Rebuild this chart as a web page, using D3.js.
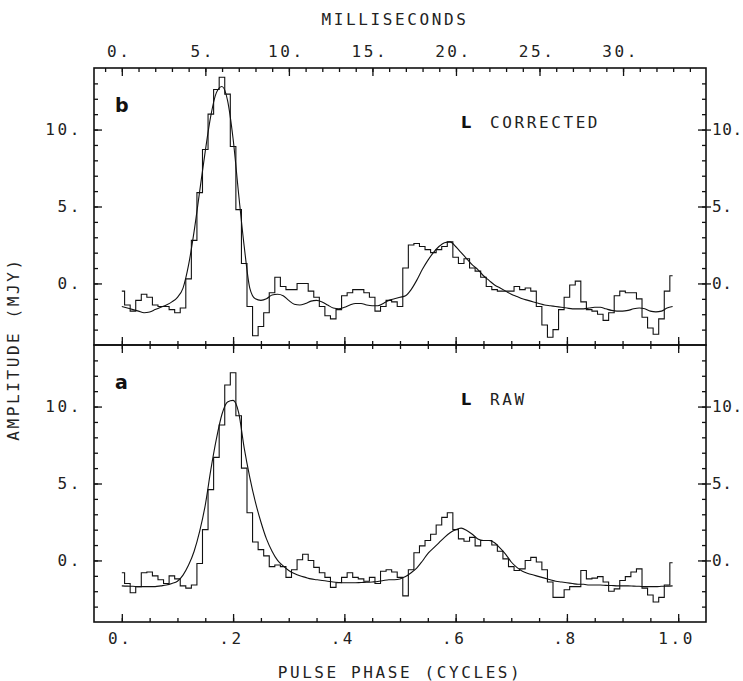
<!DOCTYPE html>
<html>
<head>
<meta charset="utf-8">
<script src="https://cdn.jsdelivr.net/npm/d3@7"></script>
<style>
  body { margin: 0; background: #fff; }
  svg { display: block; }
  .lbl { font-family: "DejaVu Sans Mono", monospace; font-size: 16px; letter-spacing: 2.6px; fill: #222; }
  .tick text { font-family: "DejaVu Sans Mono", monospace; font-size: 16px; letter-spacing: 2.6px; fill: #222; }
  .right-lbl .tick text { letter-spacing: 0.6px; }
  .tick line { stroke: #111; stroke-width: 1.3; }
</style>
</head>
<body>
<div id="root"></div>
<script>
// fase degli intervalli (bin di 0.01 di ciclo)
const phases = d3.range(100).map(i => i / 100);

// pannello b: profilo corretto (istogramma) e curva di fit
const correctedHist = [
  -0.5, -1.4, -1.8, -1.1, -0.7, -0.9, -1.4, -1.5, -1.5, -1.7,
  -1.9, -1.6, 0.3, 2.8, 5.9, 8.7, 11.0, 12.6, 13.4, 12.3,
  8.9, 4.8, 1.3, -1.5, -3.4, -2.8, -1.9, -0.6, 0.4, -0.2,
  -0.4, -0.4, 0.0, 0.0, -0.5, -0.9, -1.5, -2.1, -2.3, -1.7,
  -0.8, -0.6, -0.4, -0.4, -0.6, -0.9, -1.8, -1.5, -1.1, -1.2,
  -1.5, 1.0, 2.5, 2.6, 2.4, 2.2, 2.0, 2.2, 2.4, 2.7,
  1.7, 1.3, 1.6, 1.0, 0.8, 0.4, -0.2, -0.4, -0.5, -0.5,
  -0.5, -0.2, -0.4, -0.3, -0.5, -1.5, -2.7, -3.5, -3.0, -1.7,
  -0.9, -0.1, 0.15, -1.2, -1.7, -1.8, -2.0, -2.4, -1.9, -0.8,
  -0.5, -0.6, -0.6, -1.0, -2.2, -2.9, -3.3, -2.3, -0.5, 0.5
];
const correctedFit = [
  -1.5, -1.6, -1.7, -1.8, -1.9, -1.85, -1.7, -1.55, -1.4, -1.2,
  -0.9, -0.3, 1.2, 3.4, 6.0, 8.6, 10.9, 12.4, 12.8, 11.9,
  9.4, 5.8, 2.4, -0.3, -1.0, -1.1, -1.0, -0.75, -0.7, -0.8,
  -1.1, -1.35, -1.4, -1.3, -1.15, -1.1, -1.2, -1.4, -1.6, -1.65,
  -1.55, -1.4, -1.3, -1.3, -1.4, -1.45, -1.45, -1.3, -1.1, -1.0,
  -0.9, -0.8, -0.4, 0.2, 0.9, 1.5, 2.0, 2.4, 2.65, 2.7,
  2.4, 2.0, 1.6, 1.2, 0.9, 0.5, 0.2, -0.1, -0.3, -0.5,
  -0.7, -0.85, -1.0, -1.1, -1.2, -1.3, -1.4, -1.45, -1.5, -1.55,
  -1.6, -1.65, -1.65, -1.65, -1.6, -1.55, -1.55, -1.65, -1.75, -1.8,
  -1.8, -1.75, -1.65, -1.6, -1.65, -1.8, -1.85, -1.8, -1.6, -1.5
];

// pannello a: profilo grezzo (istogramma) e curva di fit
const rawHist = [
  -0.8, -1.5, -2.1, -1.7, -0.8, -0.75, -1.0, -1.25, -1.5, -1.0,
  -1.2, -1.65, -1.8, -1.6, -0.2, 2.0, 4.6, 6.7, 8.8, 11.4,
  12.2, 9.4, 6.0, 3.1, 1.2, 0.7, 0.3, -0.4, -0.3, -0.4,
  -1.1, -0.6, 0.05, 0.4, 0.0, -0.45, -0.8, -1.1, -1.75, -1.45,
  -1.1, -0.8, -1.1, -1.2, -1.35, -1.1, -1.5, -0.7, -0.6, -0.75,
  -1.1, -2.3, -0.6, 0.5, 0.95, 1.3, 1.7, 2.3, 2.8, 3.1,
  2.0, 1.4, 1.25, 1.5, 0.95, 1.3, 1.3, 1.0, 0.6, 0.1,
  -0.4, -0.65, -0.55, 0.0, 0.2, -0.1, -0.6, -1.4, -2.4, -2.4,
  -1.9, -1.7, -1.7, -0.65, -1.2, -1.15, -1.05, -1.4, -2.0, -1.85,
  -1.3, -1.05, -0.75, -0.55, -1.8, -2.25, -2.7, -2.4, -1.6, -0.15
];
const rawFit = [
  -1.65, -1.67, -1.68, -1.7, -1.7, -1.7, -1.7, -1.65, -1.6, -1.5,
  -1.35, -0.95, -0.3, 0.6, 1.9, 3.6, 5.9, 7.9, 9.5, 10.3,
  10.4, 9.6, 7.3, 5.4, 3.8, 2.5, 1.4, 0.6, 0.0, -0.35,
  -0.65, -0.85, -1.0, -1.1, -1.2, -1.25, -1.3, -1.35, -1.4, -1.43,
  -1.45, -1.45, -1.45, -1.43, -1.42, -1.4, -1.37, -1.3, -1.25, -1.25,
  -1.2, -1.05, -0.8, -0.5, -0.05, 0.45, 0.8, 1.15, 1.5, 1.8,
  2.0, 2.1, 1.95, 1.7, 1.4, 1.3, 1.3, 1.15, 0.8, 0.4,
  -0.1, -0.45, -0.7, -0.85, -0.95, -1.05, -1.15, -1.25, -1.35, -1.4,
  -1.45, -1.5, -1.55, -1.55, -1.6, -1.6, -1.6, -1.62, -1.63, -1.65,
  -1.65, -1.65, -1.67, -1.68, -1.7, -1.7, -1.7, -1.68, -1.67, -1.65
];

// etichette degli assi
const phaseTicks = [0, 0.2, 0.4, 0.6, 0.8, 1.0];
const phaseTickLabels = ["0.", ".2", ".4", ".6", ".8", "1.0"];
const msTicks = [0, 5, 10, 15, 20, 25, 30];
const msTickLabels = ["0.", "5.", "10.", "15.", "20.", "25.", "30."];
const ampTicks = [0, 5, 10];
const ampTickLabels = ["0.", "5.", "10."];
const periodMs = 33.3;

const W = 743, H = 681;
const left = 94, right = 706;
const svg = d3.select("#root").append("svg")
  .attr("width", W).attr("height", H);

// scale orizzontali (fase e millisecondi)
const x = d3.scaleLinear().domain([-0.05, 1.05]).range([left, right]);
const xMs = d3.scaleLinear().domain([-0.05 * periodMs, 1.05 * periodMs]).range([left, right]);

const panels = [
  { top: 68, bottom: 345, hist: correctedHist, fit: correctedFit, letter: "b", text: "CORRECTED", axisTop: "ms" },
  { top: 345, bottom: 622, hist: rawHist, fit: rawFit, letter: "a", text: "RAW", axisTop: "phase" }
];

const minorPhase = d3.range(0, 1.0001, 0.05);
const minorMs = d3.range(-1, 35, 1);
const minorAmp = d3.range(-3, 14, 1);

panels.forEach(p => {
  const y = d3.scaleLinear().domain([-4, 14]).range([p.bottom, p.top]);
  const g = svg.append("g");

  // tacche in basso (fase)
  g.append("g").attr("transform", `translate(0,${p.bottom})`)
    .call(d3.axisBottom(x).tickValues(minorPhase).tickSize(-4).tickFormat(""));
  g.append("g").attr("transform", `translate(0,${p.bottom})`)
    .call(d3.axisBottom(x).tickValues(phaseTicks).tickSize(-8).tickFormat(""));

  // tacche in alto
  if (p.axisTop === "ms") {
    g.append("g").attr("transform", `translate(0,${p.top})`)
      .call(d3.axisTop(xMs).tickValues(minorMs).tickSize(-4).tickFormat(""));
    g.append("g").attr("transform", `translate(0,${p.top})`)
      .call(d3.axisTop(xMs).tickValues(msTicks).tickSize(-8).tickPadding(11)
        .tickFormat((d, i) => msTickLabels[i]))
      .selectAll("text").attr("dx", -3);
  } else {
    g.append("g").attr("transform", `translate(0,${p.top})`)
      .call(d3.axisTop(x).tickValues(minorPhase).tickSize(-4).tickFormat(""));
    g.append("g").attr("transform", `translate(0,${p.top})`)
      .call(d3.axisTop(x).tickValues(phaseTicks).tickSize(-8).tickFormat(""));
  }

  // asse sinistro
  g.append("g").attr("transform", `translate(${left},0)`)
    .call(d3.axisLeft(y).tickValues(minorAmp).tickSize(-4).tickFormat(""));
  g.append("g").attr("transform", `translate(${left},0)`)
    .call(d3.axisLeft(y).tickValues(ampTicks).tickSize(-8).tickPadding(12)
      .tickFormat((d, i) => ampTickLabels[i]));

  // asse destro
  g.append("g").attr("transform", `translate(${right},0)`)
    .call(d3.axisRight(y).tickValues(minorAmp).tickSize(-4).tickFormat(""));
  g.append("g").attr("transform", `translate(${right},0)`)
    .call(d3.axisRight(y).tickValues(ampTicks).tickSize(-8).tickFormat(""));
  g.append("g").attr("class", "right-lbl").attr("transform", `translate(${right},0)`)
    .call(d3.axisRight(y).tickValues(ampTicks).tickSize(5).tickPadding(1)
      .tickFormat((d, i) => ampTickLabels[i]));

  g.selectAll(".domain").remove();

  // cornice
  g.append("rect")
    .attr("x", left).attr("y", p.top)
    .attr("width", right - left).attr("height", p.bottom - p.top)
    .attr("fill", "none").attr("stroke", "#111").attr("stroke-width", 1.6);

  // istogramma a gradini (centrati sulla fase del bin)
  const histPts = phases.map((ph, i) => [ph, p.hist[i]]);
  g.append("path")
    .datum(histPts)
    .attr("fill", "none").attr("stroke", "#111").attr("stroke-width", 1.1)
    .attr("d", d3.line().x(d => x(d[0])).y(d => y(d[1])).curve(d3.curveStep));

  // curva di fit
  g.append("path")
    .datum(phases.map((ph, i) => [ph, p.fit[i]]))
    .attr("fill", "none").attr("stroke", "#111").attr("stroke-width", 1.1)
    .attr("d", d3.line().x(d => x(d[0])).y(d => y(d[1])).curve(d3.curveMonotoneX));

  // lettera del pannello e didascalia
  g.append("text")
    .attr("x", 115).attr("y", p.top + 44)
    .style("font-family", "DejaVu Sans, sans-serif").style("font-weight", "bold")
    .style("font-size", "19px").attr("fill", "#111")
    .text(p.letter);
  g.append("text")
    .attr("x", 461).attr("y", p.top + 60)
    .style("font-family", "DejaVu Sans, sans-serif").style("font-weight", "bold")
    .style("font-size", "16px").attr("fill", "#111")
    .text("L");
  g.append("text").attr("class", "lbl")
    .attr("x", 490).attr("y", p.top + 60)
    .text(p.text);
});

// etichette della fase in basso
svg.append("g").attr("transform", "translate(0,622)")
  .call(d3.axisBottom(x).tickValues(phaseTicks).tickSize(0).tickPadding(11)
    .tickFormat((d, i) => phaseTickLabels[i]))
  .call(a => a.select(".domain").remove())
  .selectAll("text").attr("dx", -2);

// titoli degli assi
svg.append("text").attr("class", "lbl")
  .attr("x", 395).attr("y", 25).attr("text-anchor", "middle")
  .text("MILLISECONDS");
svg.append("text").attr("class", "lbl")
  .attr("x", 400).attr("y", 678).attr("text-anchor", "middle")
  .text("PULSE PHASE (CYCLES)");
svg.append("text").attr("class", "lbl")
  .attr("transform", "translate(19,349) rotate(-90)")
  .attr("text-anchor", "middle")
  .text("AMPLITUDE (MJY)");
</script>
</body>
</html>
